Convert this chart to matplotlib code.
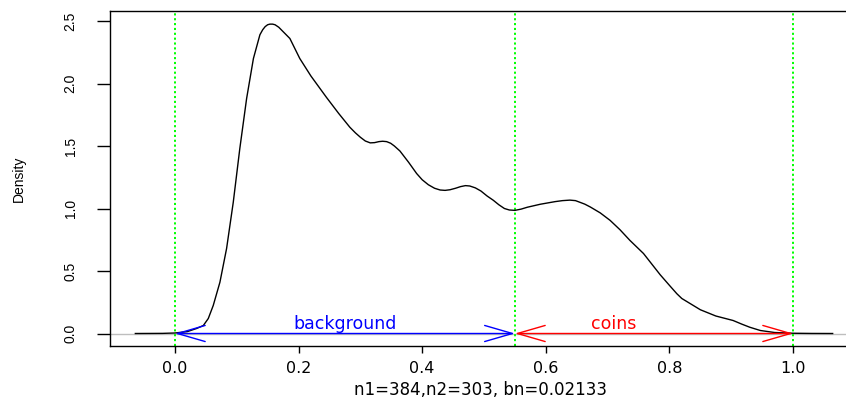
import matplotlib
matplotlib.use("Agg")
import matplotlib.pyplot as plt

# density curve
dens_x = [-0.064, -0.04, -0.02, 0.0, 0.02, 0.035, 0.046, 0.054, 0.062, 0.0728, 0.0836,
          0.0944, 0.105, 0.116, 0.127, 0.1375, 0.142, 0.146, 0.150, 0.1537, 0.158, 0.162,
          0.168, 0.175, 0.186, 0.202, 0.22, 0.245, 0.265, 0.283, 0.292, 0.3, 0.308, 0.316,
          0.323, 0.33, 0.336, 0.3425, 0.349, 0.355, 0.364, 0.378, 0.391, 0.40, 0.41, 0.42,
          0.429, 0.437, 0.445, 0.454, 0.462, 0.470, 0.477, 0.486, 0.495, 0.505, 0.515,
          0.524, 0.533, 0.541, 0.55, 0.56, 0.57, 0.591, 0.615, 0.627, 0.639, 0.648, 0.655,
          0.663, 0.672, 0.688, 0.704, 0.72, 0.736, 0.758, 0.785, 0.80, 0.812, 0.82, 0.83,
          0.85, 0.875, 0.903, 0.917, 0.93, 0.947, 0.97, 1.0, 1.03, 1.064]
dens_y = [0.0, 0.0005, 0.001, 0.004, 0.015, 0.04, 0.064, 0.12, 0.224, 0.41, 0.68,
          1.05, 1.48, 1.88, 2.20, 2.39, 2.43, 2.455, 2.47, 2.475, 2.475, 2.47,
          2.45, 2.415, 2.36, 2.20, 2.06, 1.89, 1.76, 1.65, 1.605, 1.57, 1.54, 1.525,
          1.527, 1.535, 1.538, 1.535, 1.522, 1.50, 1.46, 1.37, 1.28, 1.23, 1.19, 1.162,
          1.148, 1.145, 1.15, 1.162, 1.175, 1.183, 1.18, 1.165, 1.14, 1.10, 1.066,
          1.03, 1.00, 0.988, 0.985, 0.995, 1.01, 1.034, 1.055, 1.063, 1.067, 1.063, 1.05,
          1.035, 1.012, 0.965, 0.905, 0.83, 0.745, 0.64, 0.47, 0.385, 0.318, 0.28, 0.25,
          0.19, 0.14, 0.104, 0.075, 0.05, 0.024, 0.008, 0.002, 0.0005, 0.0]

thresholds = [0.0, 0.55, 1.0]
segments = [(0.0, 0.55), (0.55, 1.0)]
seg_labels = ["background", "coins"]
seg_label_x = [0.275, 0.71]
seg_colors = ["blue", "red"]
xticks = [0.0, 0.2, 0.4, 0.6, 0.8, 1.0]
yticks = [0.0, 0.5, 1.0, 1.5, 2.0, 2.5]
xlabel = "n1=384,n2=303, bn=0.02133"

fig = plt.figure(figsize=(8.46, 3.99), dpi=100)
W, H = 846, 399
left, right, top, bottom = 110, 858, 11, 346
ax = fig.add_axes([left / W, (H - bottom) / H, (right - left) / W, (bottom - top) / H])
ax.set_xlim(-0.105, 1.105)
ax.set_ylim(-0.1, 2.58)

ax.axhline(0, color="#bebebe", lw=1.0, zorder=1)
ax.plot(dens_x, dens_y, color="black", lw=1.0, zorder=3)
for t in thresholds:
    ax.axvline(t, color="#00ff00", lw=1.4, linestyle=(0, (1.1, 1.4)), zorder=2)

for (a, b), lab, lx, c in zip(segments, seg_labels, seg_label_x, seg_colors):
    ax.annotate("", xy=(a, 0), xytext=(b, 0),
                arrowprops=dict(arrowstyle="<->,head_length=20,head_width=5.8",
                                color=c, lw=1.0, shrinkA=0, shrinkB=0,
                                mutation_scale=1), zorder=4)
    ax.text(lx, 0.075, lab, color=c, ha="center", va="center",
            fontsize=12.5, family="DejaVu Sans", zorder=5)

ax.spines["right"].set_visible(False)
for s in ax.spines.values():
    s.set_color("black")
    s.set_linewidth(1.0)

ax.set_xticks(xticks)
ax.set_xticklabels([f"{v:.1f}" for v in xticks], family="DejaVu Sans", fontsize=11.5)
ax.set_yticks(yticks)
ax.set_yticklabels([f"{v:.1f}" for v in yticks], family="Liberation Sans",
                   fontsize=10, rotation=90, va="center")
ax.tick_params(axis="x", length=5, width=1, pad=5.5)
ax.tick_params(axis="y", length=9.4, width=1, pad=14)

ax.set_xlabel(xlabel, family="DejaVu Sans", fontsize=12)
ax.xaxis.set_label_coords(0.495, -0.105)
ax.set_ylabel("Density", family="Liberation Sans", fontsize=10)
ax.yaxis.set_label_coords(-0.112, 0.5)

fig.savefig("out.png", dpi=100)
